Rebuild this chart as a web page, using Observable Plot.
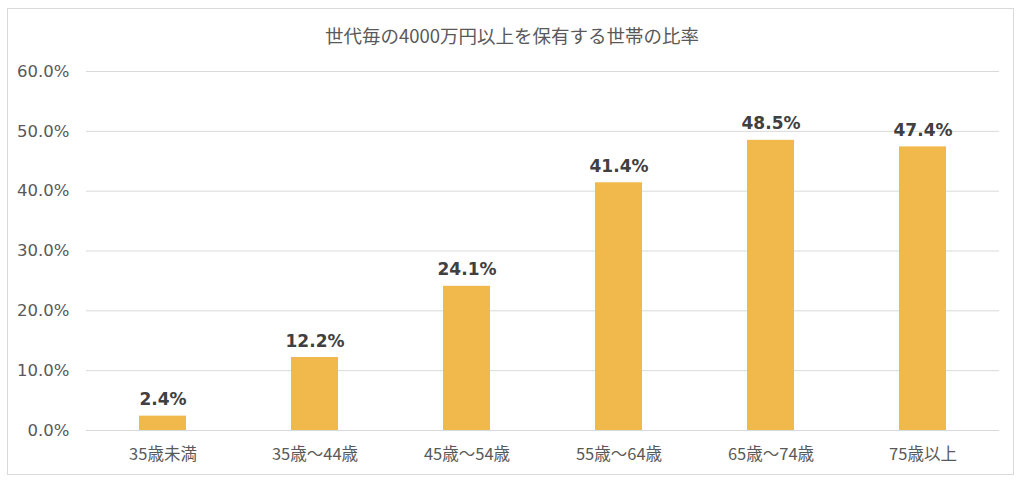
<!DOCTYPE html>
<html>
<head>
<meta charset="utf-8">
<script src="https://cdn.jsdelivr.net/npm/d3@7"></script>
<script src="https://cdn.jsdelivr.net/npm/@observablehq/plot@0.6"></script>
<style>
  html, body { margin: 0; padding: 0; background: #fff; }
  body { width: 1024px; height: 484px; position: relative; overflow: hidden; }
  #frame { position: absolute; left: 7px; top: 8px; width: 1007px; height: 467px; border: 1px solid #d9d9d9; box-sizing: border-box; }
  #title { position: absolute; left: 0; top: 22px; width: 1024px; text-align: center; font-family: "Noto Sans CJK JP", sans-serif; font-size: 18.5px; color: #595959; line-height: 26px; }
  #chart { position: absolute; left: 0; top: 52px; }
</style>
</head>
<body>
<div id="frame"></div>
<div id="title">世代毎の4000万円以上を保有する世帯の比率</div>
<div id="chart"></div>
<script>
const categories = ["35歳未満", "35歳～44歳", "45歳～54歳", "55歳～64歳", "65歳～74歳", "75歳以上"];
const values = [2.4, 12.2, 24.1, 41.4, 48.5, 47.4];
const yTicks = [0, 10, 20, 30, 40, 50, 60];

const data = categories.map((c, i) => ({category: c, value: values[i]}));

const chart = Plot.plot({
  width: 1024,
  height: 420,
  marginLeft: 86,
  marginRight: 25,
  marginTop: 19,
  marginBottom: 42,
  style: {background: "transparent", color: "#595959"},
  x: {domain: categories, paddingInner: 0.69, paddingOuter: 0.345, label: null, tickSize: 0, tickPadding: 19},
  y: {domain: [0, 60], ticks: yTicks, label: null, tickSize: 0, tickPadding: 17},
  marks: [
    Plot.gridY(yTicks, {stroke: "#d9d9d9", strokeOpacity: 1, strokeWidth: 1}),
    Plot.barY(data, {x: "category", y: "value", fill: "#F1B94B"}),
    Plot.axisY(yTicks, {tickSize: 0, tickPadding: 17, tickFormat: d => d.toFixed(1) + "%", fontSize: 16.5, fontFamily: "DejaVu Sans", fill: "#595959"}),
    Plot.axisX({tickSize: 0, tickPadding: 18, fontSize: 16.5, fontFamily: "Noto Sans CJK JP", fill: "#595959"}),
    Plot.text(data, {x: "category", y: "value", text: d => d.value.toFixed(1) + "%", lineAnchor: "bottom", dy: -11, fontSize: 17, fontWeight: "bold", fontFamily: "DejaVu Sans", fill: "#404040"})
  ]
});
document.getElementById("chart").appendChild(chart);
</script>
</body>
</html>
